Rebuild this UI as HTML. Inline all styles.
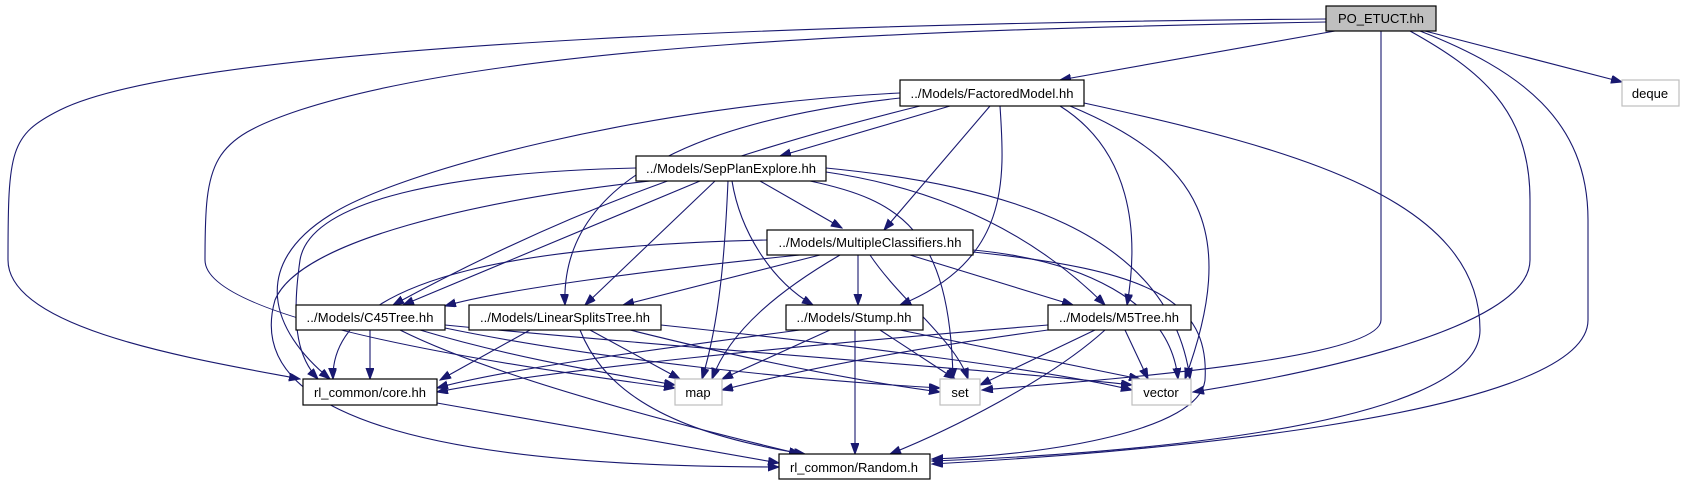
<!DOCTYPE html>
<html><head><meta charset="utf-8"><style>
html,body{margin:0;padding:0;background:#fff;}
svg{display:block;}
text{font-family:"Liberation Sans",Helvetica,Arial,sans-serif;font-size:13px;fill:#000;}
.e{fill:none;stroke:#191970;stroke-width:1.1;marker-end:url(#a);}
.n{fill:#fff;stroke:#000;stroke-width:1.2;}
.g{fill:#fff;stroke:#bfbfbf;stroke-width:1.2;}
</style></head><body>
<svg width="1685" height="485" viewBox="0 0 1685 485" xmlns="http://www.w3.org/2000/svg">
<defs><marker id="a" markerUnits="userSpaceOnUse" markerWidth="12" markerHeight="10" refX="11" refY="4" orient="auto"><path d="M0,0 L11,4 L0,8 z" fill="#191970" stroke="#191970"/></marker></defs>
<g>
<!-- PO edges -->
<path class="e" d="M1326,19 C900,22 200,40 60,110 C10,135 8,150 8,260 C8,330 200,360 300,379"/>
<path class="e" d="M1326,22 C900,30 500,45 300,110 C210,140 205,160 205,260 C205,320 500,365 675,388"/>
<path class="e" d="M1335,31 L1060,80"/>
<path class="e" d="M1425,31 L1622,82"/>
<path class="e" d="M1381,31 L1381,320 C1381,360 1100,380 982,390"/>
<path class="e" d="M1410,31 C1480,70 1530,110 1530,200 L1530,260 C1530,330 1300,375 1193,392"/>
<path class="e" d="M1420,31 C1520,70 1588,120 1588,220 L1588,320 C1588,420 1100,455 932,464"/>
<!-- FM edges -->
<path class="e" d="M950,106 L780,156"/>
<path class="e" d="M990,106 L884,230"/>
<path class="e" d="M1000,106 C1005,180 1010,260 900,305"/>
<path class="e" d="M1060,106 C1130,150 1140,230 1127,305"/>
<path class="e" d="M1070,106 C1200,160 1240,230 1185,379"/>
<path class="e" d="M1084,103 C1300,150 1480,200 1480,330 C1480,430 1100,455 932,461"/>
<path class="e" d="M920,106 C700,160 550,220 393,305"/>
<path class="e" d="M900,98 C700,120 560,180 565,305"/>
<path class="e" d="M900,93 C650,105 400,170 330,215 C250,265 270,330 330,379"/>
<!-- SPE edges -->
<path class="e" d="M760,181 L842,228"/>
<path class="e" d="M700,181 L403,305"/>
<path class="e" d="M715,181 L585,305"/>
<path class="e" d="M728,181 C725,250 720,320 702,379"/>
<path class="e" d="M732,181 C740,230 770,280 813,305"/>
<path class="e" d="M636,168 C450,172 310,200 300,260 C290,330 300,360 318,379"/>
<path class="e" d="M650,181 C480,200 300,240 275,300 C255,370 300,467 779,467"/>
<path class="e" d="M810,181 C900,200 950,230 953,379"/>
<path class="e" d="M826,172 C950,190 1040,240 1105,305"/>
<path class="e" d="M826,168 C1000,185 1170,230 1190,379"/>
<!-- MC edges -->
<path class="e" d="M800,255 C650,270 500,290 445,306"/>
<path class="e" d="M820,255 L623,305"/>
<path class="e" d="M858,255 L858,305"/>
<path class="e" d="M840,255 C780,290 730,330 712,379"/>
<path class="e" d="M870,255 C900,300 955,340 968,379"/>
<path class="e" d="M910,255 L1073,305"/>
<path class="e" d="M973,250 C1080,260 1170,300 1178,379"/>
<path class="e" d="M973,252 C1150,270 1210,300 1205,380 C1200,430 1050,455 932,459"/>
<path class="e" d="M767,240 C550,245 330,270 333,379"/>
<!-- C45 -->
<path class="e" d="M370,330 L370,379"/>
<path class="e" d="M420,330 C520,360 620,375 675,385"/>
<path class="e" d="M445,328 C600,360 800,380 940,388"/>
<path class="e" d="M445,325 C700,350 1000,370 1132,385"/>
<path class="e" d="M400,330 C500,380 700,430 800,454"/>
<!-- LST -->
<path class="e" d="M530,330 L440,380"/>
<path class="e" d="M590,330 L680,379"/>
<path class="e" d="M630,330 C750,360 850,380 940,392"/>
<path class="e" d="M661,325 C850,345 1050,370 1132,390"/>
<path class="e" d="M580,330 C600,380 650,430 805,454"/>
<!-- Stump -->
<path class="e" d="M800,330 C650,350 500,370 437,388"/>
<path class="e" d="M830,330 L722,379"/>
<path class="e" d="M880,330 L955,379"/>
<path class="e" d="M900,330 L1140,379"/>
<path class="e" d="M855,330 L855,454"/>
<!-- M5 -->
<path class="e" d="M1048,325 C800,345 550,370 437,392"/>
<path class="e" d="M1048,330 C900,350 800,370 722,390"/>
<path class="e" d="M1095,330 L980,385"/>
<path class="e" d="M1125,330 L1148,379"/>
<path class="e" d="M1105,330 C1050,380 950,430 890,454"/>
<!-- core -->
<path class="e" d="M437,403 L779,463"/>
</g>
<g>
<rect x="1326" y="6" width="110" height="25" fill="#bfbfbf" stroke="#000" stroke-width="1.2"/>
<text x="1381" y="23" text-anchor="middle">PO_ETUCT.hh</text>
<rect class="n" x="900" y="80" width="184" height="26"/>
<text x="992" y="98" text-anchor="middle" textLength="163">../Models/FactoredModel.hh</text>
<rect class="g" x="1622" y="80" width="57" height="26"/>
<text x="1650" y="98" text-anchor="middle">deque</text>
<rect class="n" x="636" y="156" width="190" height="25"/>
<text x="731" y="173" text-anchor="middle" textLength="170">../Models/SepPlanExplore.hh</text>
<rect class="n" x="767" y="230" width="206" height="25"/>
<text x="870" y="247" text-anchor="middle" textLength="183">../Models/MultipleClassifiers.hh</text>
<rect class="n" x="296" y="305" width="149" height="25"/>
<text x="370" y="322" text-anchor="middle" textLength="127">../Models/C45Tree.hh</text>
<rect class="n" x="469" y="305" width="192" height="25"/>
<text x="565" y="322" text-anchor="middle" textLength="170">../Models/LinearSplitsTree.hh</text>
<rect class="n" x="786" y="305" width="137" height="25"/>
<text x="854" y="322" text-anchor="middle" textLength="115">../Models/Stump.hh</text>
<rect class="n" x="1048" y="305" width="143" height="25"/>
<text x="1119" y="322" text-anchor="middle" textLength="120">../Models/M5Tree.hh</text>
<rect class="n" x="303" y="379" width="134" height="26"/>
<text x="370" y="397" text-anchor="middle" textLength="112">rl_common/core.hh</text>
<rect class="g" x="675" y="379" width="47" height="26"/>
<text x="698" y="397" text-anchor="middle">map</text>
<rect class="g" x="940" y="379" width="40" height="26"/>
<text x="960" y="397" text-anchor="middle">set</text>
<rect class="g" x="1132" y="379" width="59" height="26"/>
<text x="1161" y="397" text-anchor="middle">vector</text>
<rect class="n" x="779" y="454" width="151" height="25"/>
<text x="854" y="472" text-anchor="middle" textLength="128">rl_common/Random.h</text>
</g>
</svg>
</body></html>
